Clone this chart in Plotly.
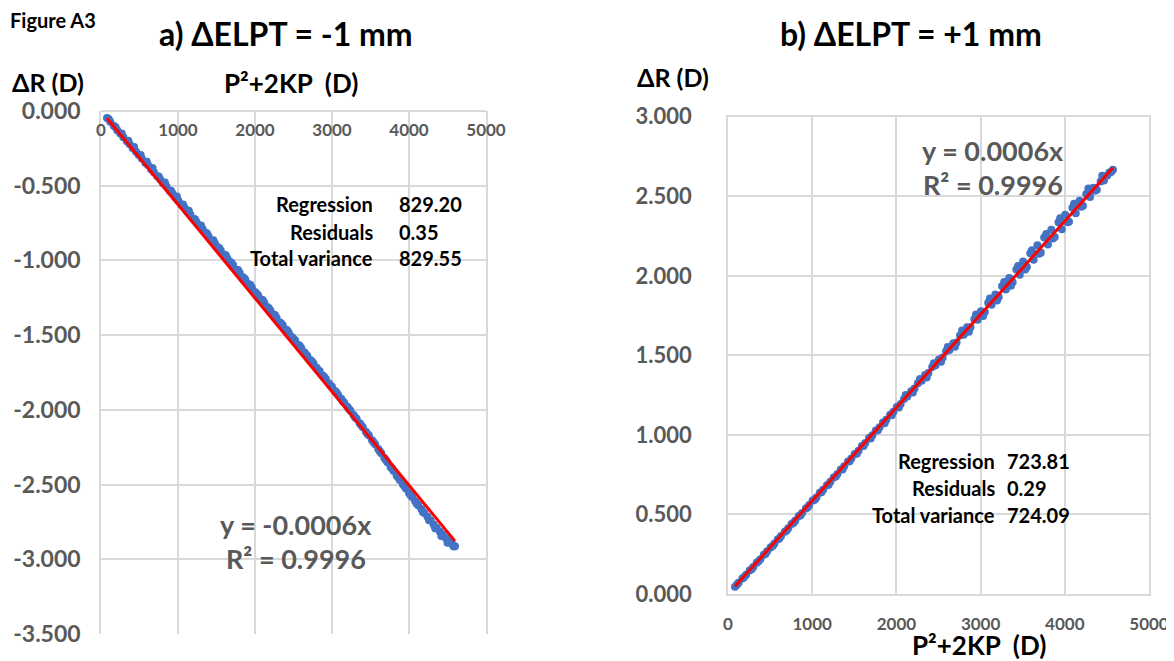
import numpy as np
import plotly.graph_objects as go

W, H = 1174, 661
OFF = 8  # page offset of the figure inside the browser window

# ---------------- data ----------------
a_x = [78, 120, 165, 210, 250, 290, 335, 370, 410, 455, 490, 530, 575, 610, 650, 690, 730, 770, 805, 850,
       890, 930, 965, 1005, 1045, 1085, 1120, 1160, 1200, 1240, 1280, 1320, 1355, 1395, 1440, 1480, 1515, 1555,
       1600, 1640, 1675, 1715, 1760, 1800, 1840, 1875, 1915, 1960, 2000, 2040, 2080, 2120, 2160, 2200, 2240,
       2280, 2320, 2360, 2400, 2440, 2480, 2520, 2560, 2600, 2640, 2680, 2720, 2760, 2800, 2840, 2880, 2920,
       2960, 3000, 3040, 3080, 3120, 3160, 3200, 3240, 3280, 3320, 3360, 3400, 3440, 3480, 3520, 3560, 3600,
       3640, 3680, 3720, 3760, 3800, 3840, 3880, 3920, 3960, 4000, 4040, 4080, 4120, 4160, 4200, 4240, 4280,
       4320, 4360, 4400, 4440, 4480, 4520, 4560, 4597,
       100, 190, 270, 355, 430, 515, 595, 670, 750, 830, 910, 985, 1065, 1140, 1220, 1300, 1375, 1460, 1535,
       1620, 1695, 1780, 1860, 1940, 2020, 2100, 2180, 2260, 2340, 2420, 2500, 2580, 2660, 2740, 2820, 2900,
       2980, 3060, 3140, 3220, 3300, 3380, 3460, 3540, 3620, 3700, 3780, 3860, 3940, 4020, 4100, 4180, 4260,
       4340, 4420, 4500, 4580]
a_y = [-0.047, -0.072, -0.098, -0.128, -0.150, -0.176, -0.203, -0.221, -0.247, -0.272, -0.295, -0.318,
       -0.346, -0.362, -0.389, -0.411, -0.437, -0.458, -0.483, -0.506, -0.533, -0.552, -0.579, -0.601,
       -0.627, -0.648, -0.674, -0.692, -0.721, -0.742, -0.768, -0.790, -0.815, -0.836, -0.866, -0.886,
       -0.911, -0.934, -0.962, -0.985, -1.009, -1.031, -1.062, -1.083, -1.111, -1.130, -1.158, -1.183,
       -1.211, -1.233, -1.262, -1.284, -1.311, -1.335, -1.362, -1.384, -1.413, -1.434, -1.462, -1.486,
       -1.513, -1.535, -1.565, -1.586, -1.614, -1.639, -1.667, -1.689, -1.718, -1.742, -1.770, -1.793,
       -1.823, -1.846, -1.874, -1.900, -1.926, -1.953, -1.980, -2.006, -2.034, -2.060, -2.089, -2.116,
       -2.146, -2.172, -2.203, -2.230, -2.262, -2.290, -2.322, -2.351, -2.383, -2.410, -2.441, -2.470,
       -2.498, -2.526, -2.556, -2.583, -2.611, -2.638, -2.664, -2.690, -2.716, -2.741, -2.767, -2.790,
       -2.814, -2.836, -2.859, -2.880, -2.900, -2.912,
       -0.053, -0.108, -0.150, -0.199, -0.241, -0.294, -0.340, -0.382, -0.438, -0.478, -0.533, -0.573,
       -0.626, -0.668, -0.724, -0.767, -0.818, -0.865, -0.917, -0.965, -1.018, -1.064, -1.120, -1.164,
       -1.221, -1.265, -1.320, -1.366, -1.422, -1.469, -1.525, -1.571, -1.628, -1.676, -1.733, -1.780,
       -1.837, -1.886, -1.943, -1.994, -2.051, -2.103, -2.162, -2.216, -2.277, -2.335, -2.393, -2.452,
       -2.512, -2.571, -2.628, -2.683, -2.739, -2.792, -2.845, -2.890, -2.915]

b_x = [83, 125, 170, 215, 255, 300, 340, 385, 425, 465, 505, 550, 590, 630, 675, 715, 755, 800, 840, 880,
       925, 965, 1005, 1050, 1090, 1130, 1175, 1215, 1255, 1300, 1340, 1380, 1425, 1465, 1505, 1550, 1590,
       1630, 1675, 1715, 1755, 1800, 1840, 1880, 1925, 1965, 2005, 2050, 2090, 2130, 2175, 2215, 2255, 2300,
       2340, 2380, 2425, 2465, 2505, 2550, 2590, 2630, 2675, 2715, 2755, 2800, 2840, 2880, 2925, 2965, 3005,
       3050, 3090, 3130, 3175, 3215, 3255, 3300, 3340, 3380, 3425, 3465, 3505, 3550, 3590, 3630, 3675, 3715,
       3755, 3800, 3840, 3880, 3925, 3965, 4005, 4050, 4090, 4130, 4175, 4215, 4255, 4300, 4340, 4380, 4425,
       4465, 4505, 4550, 4572,
       105, 190, 280, 360, 445, 530, 610, 695, 780, 860, 945, 1030, 1110, 1195, 1280, 1360, 1445, 1530,
       1610, 1695, 1780, 1860, 1945, 2030, 2110, 2195, 2280, 2360, 2445, 2530, 2610, 2695, 2780, 2860, 2945,
       3030, 3110, 3195, 3280, 3360, 3445, 3530, 3610, 3695, 3780, 3860, 3945, 4030, 4110, 4195, 4280, 4360,
       4445, 4530]
b_y = [0.046, 0.071, 0.097, 0.121, 0.147, 0.170, 0.196, 0.219, 0.246, 0.268, 0.293, 0.316, 0.342, 0.364,
       0.392, 0.413, 0.440, 0.462, 0.490, 0.509, 0.538, 0.560, 0.587, 0.607, 0.636, 0.656, 0.684, 0.705,
       0.733, 0.755, 0.782, 0.803, 0.833, 0.851, 0.880, 0.901, 0.930, 0.949, 0.980, 0.998, 1.027, 1.048,
       1.078, 1.096, 1.127, 1.145, 1.175, 1.194, 1.225, 1.242, 1.275, 1.291, 1.324, 1.341, 1.376, 1.389,
       1.426, 1.437, 1.474, 1.486, 1.525, 1.533, 1.576, 1.581, 1.625, 1.630, 1.676, 1.677, 1.727, 1.724,
       1.777, 1.772, 1.830, 1.818, 1.882, 1.866, 1.934, 1.914, 1.986, 1.960, 2.040, 2.006, 2.090, 2.055,
       2.142, 2.101, 2.192, 2.146, 2.240, 2.196, 2.290, 2.244, 2.337, 2.292, 2.383, 2.340, 2.428, 2.393,
       2.472, 2.440, 2.514, 2.496, 2.553, 2.541, 2.592, 2.599, 2.631, 2.652, 2.667,
       0.058, 0.106, 0.156, 0.204, 0.252, 0.301, 0.349, 0.397, 0.448, 0.493, 0.544, 0.592, 0.640, 0.687,
       0.738, 0.783, 0.834, 0.882, 0.930, 0.977, 1.029, 1.073, 1.124, 1.172, 1.251, 1.266, 1.352, 1.361,
       1.451, 1.460, 1.552, 1.554, 1.656, 1.649, 1.757, 1.747, 1.858, 1.845, 1.961, 1.938, 2.062, 2.040,
       2.161, 2.139, 2.263, 2.234, 2.361, 2.336, 2.453, 2.434, 2.548, 2.534, 2.629, 2.649]

x_ticks = [0, 1000, 2000, 3000, 4000, 5000]
a_y_ticks = [0.0, -0.5, -1.0, -1.5, -2.0, -2.5, -3.0, -3.5]
a_y_labels = ["0.000", "-0.500", "-1.000", "-1.500", "-2.000", "-2.500", "-3.000", "-3.500"]
b_y_ticks = [0.0, 0.5, 1.0, 1.5, 2.0, 2.5, 3.0]
b_y_labels = ["0.000", "0.500", "1.000", "1.500", "2.000", "2.500", "3.000"]

a_table_labels = ["Regression", "Residuals", "Total variance"]
a_table_values = ["829.20", "0.35", "829.55"]
b_table_labels = ["Regression", "Residuals", "Total variance"]
b_table_values = ["723.81", "0.29", "724.09"]
a_equation = ["y = -0.0006x", "R² = 0.9996"]
b_equation = ["y = 0.0006x", "R² = 0.9996"]


def px(x):
    return (x - OFF) / W


def py(y):
    return 1 - (y - OFF) / H


def fit_line(xs, ys):
    xs = np.array(xs, float)
    ys = np.array(ys, float)
    slope = (xs * ys).sum() / (xs * xs).sum()
    xl = np.array([xs.min(), xs.max()])
    return xl, slope * xl


BLUE = "#4472C4"
GRID = "#d9d9d9"
GREY = "#595959"
FONT = "Lato"

fig = go.Figure()
fig.add_trace(go.Scatter(x=a_x, y=a_y, mode="markers", xaxis="x", yaxis="y",
                         marker=dict(color=BLUE, size=8), showlegend=False))
lx, ly = fit_line(a_x, a_y)
fig.add_trace(go.Scatter(x=lx, y=ly, mode="lines", xaxis="x", yaxis="y",
                         line=dict(color="#FF0000", width=3), showlegend=False))
fig.add_trace(go.Scatter(x=b_x, y=b_y, mode="markers", xaxis="x2", yaxis="y2",
                         marker=dict(color=BLUE, size=8), showlegend=False))
lx, ly = fit_line(b_x, b_y)
fig.add_trace(go.Scatter(x=lx, y=ly, mode="lines", xaxis="x2", yaxis="y2",
                         line=dict(color="#FF0000", width=3), showlegend=False))

axis_common = dict(showgrid=True, gridcolor=GRID, gridwidth=1.5, zeroline=False, automargin=False,
                   showline=True, linecolor=GRID, linewidth=1.5, mirror=True, ticks="")

fig.update_layout(
    template="none",
    width=W, height=H, margin=dict(l=0, r=0, t=0, b=0, autoexpand=False),
    paper_bgcolor="white", plot_bgcolor="white",
    font=dict(family=FONT, color="black"),
    xaxis=dict(domain=[px(101), px(486)], range=[0, 5000], tickvals=x_ticks,
               anchor="free", position=py(111), side="bottom",
               tickfont=dict(size=17, color=GREY, family=FONT, weight="bold"),
               ticklabelstandoff=4, **axis_common),
    yaxis=dict(domain=[py(634), py(111)], range=[-3.5, 0], tickvals=a_y_ticks,
               ticktext=a_y_labels, anchor="x",
               tickfont=dict(size=23, color=GREY, family=FONT, weight="bold"),
               ticklabelstandoff=14, **axis_common),
    xaxis2=dict(domain=[px(728), px(1149)], range=[0, 5000], tickvals=x_ticks, anchor="y2",
                tickfont=dict(size=17, color=GREY, family=FONT, weight="bold"),
                ticklabelstandoff=14, **axis_common),
    yaxis2=dict(domain=[py(594), py(116.7)], range=[0, 3], tickvals=b_y_ticks,
                ticktext=b_y_labels, anchor="x2",
                tickfont=dict(size=22, color=GREY, family=FONT, weight="bold"),
                ticklabelstandoff=30, **axis_common),
)

ann = []


def txt(x, y, s, size, color="black", xanchor="center", bold=True):
    ann.append(dict(x=px(x), y=py(y), xref="paper", yref="paper", text=s, showarrow=False,
                    xanchor=xanchor, yanchor="middle",
                    font=dict(size=size, color=color, family=FONT, weight="bold" if bold else "normal")))


txt(8, 20, "Figure A3", 20, xanchor="left")
txt(286, 33, "a) ΔELPT = -1 mm", 32)
txt(911, 33, "b) ΔELPT = +1 mm", 32)
txt(48, 82, "ΔR (D)", 25)
txt(673, 77, "ΔR (D)", 25)
txt(291, 83, "P²+2KP  (D)", 26)
txt(979, 645, "P²+2KP  (D)", 26)

for i, (lab, val) in enumerate(zip(a_table_labels, a_table_values)):
    yy = [204, 232, 258][i]
    txt(375, yy, lab, 20, xanchor="right")
    txt(397, yy, val, 20, xanchor="left")
for i, (lab, val) in enumerate(zip(b_table_labels, b_table_values)):
    yy = [461, 488, 515][i]
    txt(997, yy, lab, 20, xanchor="right")
    txt(1005, yy, val, 20, xanchor="left")

txt(296, 524, a_equation[0], 27, color=GREY)
txt(296, 558, a_equation[1], 27, color=GREY)
txt(993, 150, b_equation[0], 27, color=GREY)
txt(993, 185, b_equation[1], 27, color=GREY)

fig.update_layout(annotations=ann)
fig.write_html("out.html")
